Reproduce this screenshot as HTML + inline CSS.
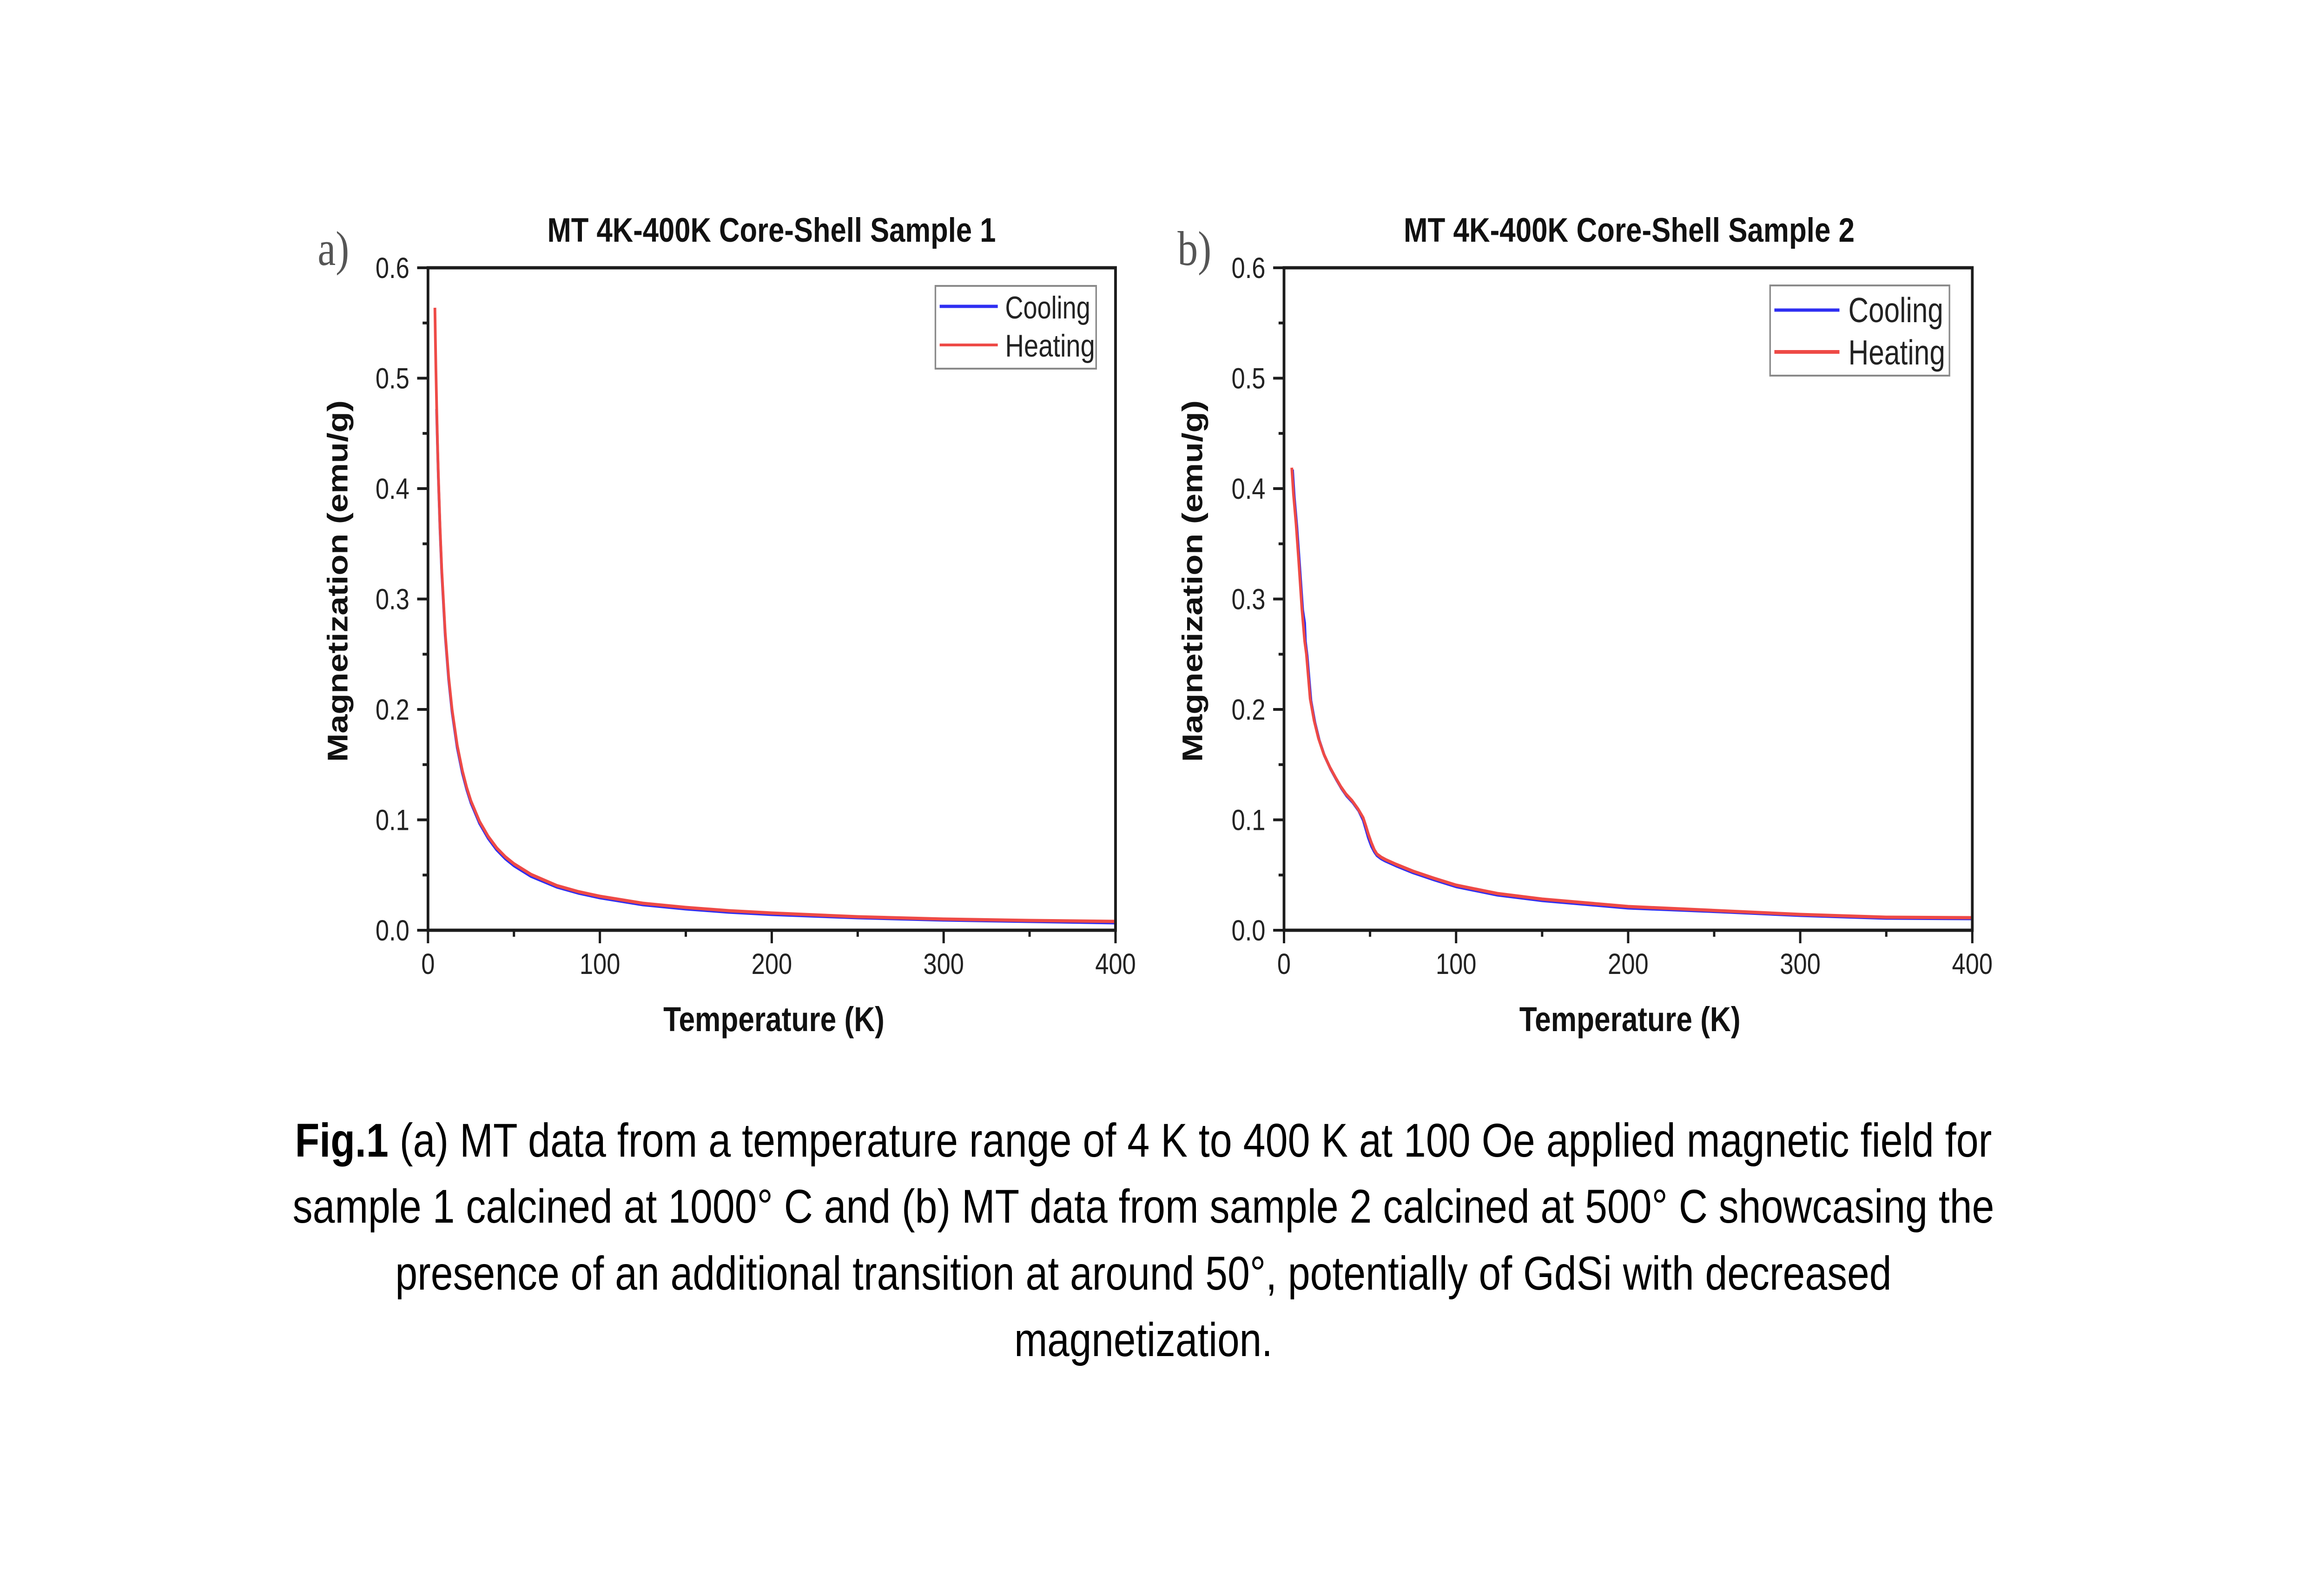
<!DOCTYPE html>
<html>
<head>
<meta charset="utf-8">
<style>
  html,body{margin:0;padding:0;background:#fff;overflow:hidden;width:100vw;height:100vh;}
  svg{display:block;width:100vw;height:100vh;}
  .tk{font-family:"Liberation Sans",Arial,sans-serif;font-size:63px;fill:#222;}
  .bt{font-family:"Liberation Sans",Arial,sans-serif;font-weight:bold;fill:#111;}
  .lg{font-family:"Liberation Sans",Arial,sans-serif;fill:#222;}
  .pl{font-family:"Liberation Serif","Times New Roman",serif;font-size:105px;fill:#555;}
  .cap{font-family:"Liberation Sans",Arial,sans-serif;font-size:102px;fill:#000;}
</style>
</head>
<body>
<svg viewBox="0 0 6000 3375" preserveAspectRatio="none" xmlns="http://www.w3.org/2000/svg">
  <rect x="0" y="0" width="6000" height="3375" fill="#fff"/>

  <!-- ================= PANEL A ================= -->
  <text class="pl" x="820" y="570">a)</text>
  <text class="bt" x="1992" y="520" font-size="73" text-anchor="middle" textLength="1158" lengthAdjust="spacingAndGlyphs">MT 4K-400K Core-Shell Sample 1</text>

  <polyline fill="none" stroke="#2e2ef2" stroke-width="7" stroke-linejoin="round"
    points="1127.2,880 1129.4,955 1131.6,1024 1136.1,1140 1140.5,1231 1149.4,1366 1158.3,1461 1167.1,1531 1180.4,1608 1193.8,1663 1204.9,1698 1215.9,1727 1238.1,1771 1260.3,1803 1282.5,1828 1304.7,1847 1326.9,1862 1371.3,1885 1437.8,1908 1493.3,1921 1548.8,1931 1659.7,1946 1770.6,1955 1881.6,1962 1992.5,1967 2214.4,1974 2436.3,1979 2658.1,1982 2880,1985"/>
  <polyline fill="none" stroke="#ee4a46" stroke-width="7" stroke-linejoin="round"
    points="1122.8,662 1124.1,732 1125.4,794 1127.2,868 1129.4,949 1131.6,1019 1136.1,1135 1140.5,1226 1149.4,1361 1158.3,1456 1167.1,1526 1180.4,1603 1193.8,1658 1204.9,1694 1215.9,1723 1238.1,1767 1260.3,1799 1282.5,1824 1304.7,1843 1326.9,1858 1371.3,1881 1437.8,1905 1493.3,1918 1548.8,1928 1659.7,1943 1770.6,1952 1881.6,1959 1992.5,1964 2214.4,1972 2436.3,1977 2658.1,1980 2880,1982"/>

  <rect x="1105" y="576" width="1775" height="1425" fill="none" stroke="#1c1c1c" stroke-width="7"/>
  <g stroke="#1c1c1c" stroke-width="6">
    <line x1="1077" y1="2001" x2="1105" y2="2001"/>
    <line x1="1077" y1="1763.5" x2="1105" y2="1763.5"/>
    <line x1="1077" y1="1526" x2="1105" y2="1526"/>
    <line x1="1077" y1="1288.5" x2="1105" y2="1288.5"/>
    <line x1="1077" y1="1051" x2="1105" y2="1051"/>
    <line x1="1077" y1="813.5" x2="1105" y2="813.5"/>
    <line x1="1077" y1="576" x2="1105" y2="576"/>
    <line x1="1091" y1="1882.25" x2="1105" y2="1882.25"/>
    <line x1="1091" y1="1644.75" x2="1105" y2="1644.75"/>
    <line x1="1091" y1="1407.25" x2="1105" y2="1407.25"/>
    <line x1="1091" y1="1169.75" x2="1105" y2="1169.75"/>
    <line x1="1091" y1="932.25" x2="1105" y2="932.25"/>
    <line x1="1091" y1="694.75" x2="1105" y2="694.75"/>
    <line x1="1105" y1="2001" x2="1105" y2="2029"/>
    <line x1="1548.75" y1="2001" x2="1548.75" y2="2029"/>
    <line x1="1992.5" y1="2001" x2="1992.5" y2="2029"/>
    <line x1="2436.25" y1="2001" x2="2436.25" y2="2029"/>
    <line x1="2880" y1="2001" x2="2880" y2="2029"/>
    <line x1="1326.9" y1="2001" x2="1326.9" y2="2015"/>
    <line x1="1770.6" y1="2001" x2="1770.6" y2="2015"/>
    <line x1="2214.4" y1="2001" x2="2214.4" y2="2015"/>
    <line x1="2658.1" y1="2001" x2="2658.1" y2="2015"/>
  </g>
  <g class="tk" text-anchor="end">
    <text x="1057" y="2023">0.0</text>
    <text x="1057" y="1785.5">0.1</text>
    <text x="1057" y="1548">0.2</text>
    <text x="1057" y="1310.5">0.3</text>
    <text x="1057" y="1073">0.4</text>
    <text x="1057" y="835.5">0.5</text>
    <text x="1057" y="598">0.6</text>
  </g>
  <g class="tk" text-anchor="middle">
    <text x="1105" y="2095">0</text>
    <text x="1548.75" y="2095">100</text>
    <text x="1992.5" y="2095">200</text>
    <text x="2436.25" y="2095">300</text>
    <text x="2880" y="2095">400</text>
  </g>
  <text class="bt" x="1998" y="2218" font-size="74" text-anchor="middle" textLength="571" lengthAdjust="spacingAndGlyphs">Temperature (K)</text>
  <text class="bt" transform="translate(897,1250) rotate(-90)" x="0" y="0" font-size="74" text-anchor="middle" textLength="778" lengthAdjust="spacingAndGlyphs">Magnetization (emu/g)</text>

  <rect x="2415" y="615" width="415" height="178" fill="#fff" stroke="#8a8a8a" stroke-width="4"/>
  <line x1="2426" y1="659" x2="2576" y2="659" stroke="#2e2ef2" stroke-width="7"/>
  <line x1="2426" y1="742" x2="2576" y2="742" stroke="#ee4a46" stroke-width="6"/>
  <text class="lg" x="2595" y="685" font-size="68" textLength="220" lengthAdjust="spacingAndGlyphs">Cooling</text>
  <text class="lg" x="2595" y="767" font-size="68" textLength="232" lengthAdjust="spacingAndGlyphs">Heating</text>

  <!-- ================= PANEL B ================= -->
  <text class="pl" x="3040" y="570">b)</text>
  <text class="bt" x="4206" y="520" font-size="73" text-anchor="middle" textLength="1164" lengthAdjust="spacingAndGlyphs">MT 4K-400K Core-Shell Sample 2</text>

  <polyline fill="none" stroke="#2e2ef2" stroke-width="7" stroke-linejoin="round"
    points="3337,1010 3341.4,1068 3348.1,1132 3354.8,1210 3363.2,1312 3368.3,1340 3370.3,1380 3374.8,1411 3384.5,1507 3394.7,1554 3405.9,1592 3419.2,1625 3435.2,1654 3450.3,1677 3463.6,1696 3476.9,1712 3492.5,1726 3508,1744 3519.4,1764 3526.5,1784 3532.7,1802 3540.7,1820 3548.2,1832 3554.9,1840 3566,1847 3577.1,1852 3603.8,1862 3648.2,1877 3701.5,1892 3759.3,1907 3865.9,1925 3981.4,1937 4203.5,1953 4439,1961 4647.8,1969 4869.9,1975 5092,1976"/>
  <polyline fill="none" stroke="#ee4a46" stroke-width="7" stroke-linejoin="round"
    points="3335,1006 3339.4,1063 3346.1,1127 3352.8,1205 3361.2,1310 3368.3,1379 3372.8,1407 3382.5,1503 3392.7,1550 3403.9,1588 3417.2,1621 3433.2,1650 3448.3,1673 3461.6,1692 3474.9,1708 3490.5,1722 3506,1740 3519.4,1759 3526.5,1777 3532.7,1794 3540.7,1813 3548.2,1828 3554.9,1837 3566,1844 3577.1,1849 3603.8,1859 3648.2,1874 3701.5,1889 3759.3,1904 3865.9,1922 3981.4,1934 4203.5,1950 4439,1959 4647.8,1967 4869.9,1973 5092,1974"/>

  <rect x="3315" y="576" width="1777" height="1425" fill="none" stroke="#1c1c1c" stroke-width="7"/>
  <g stroke="#1c1c1c" stroke-width="6">
    <line x1="3287" y1="2001" x2="3315" y2="2001"/>
    <line x1="3287" y1="1763.5" x2="3315" y2="1763.5"/>
    <line x1="3287" y1="1526" x2="3315" y2="1526"/>
    <line x1="3287" y1="1288.5" x2="3315" y2="1288.5"/>
    <line x1="3287" y1="1051" x2="3315" y2="1051"/>
    <line x1="3287" y1="813.5" x2="3315" y2="813.5"/>
    <line x1="3287" y1="576" x2="3315" y2="576"/>
    <line x1="3301" y1="1882.25" x2="3315" y2="1882.25"/>
    <line x1="3301" y1="1644.75" x2="3315" y2="1644.75"/>
    <line x1="3301" y1="1407.25" x2="3315" y2="1407.25"/>
    <line x1="3301" y1="1169.75" x2="3315" y2="1169.75"/>
    <line x1="3301" y1="932.25" x2="3315" y2="932.25"/>
    <line x1="3301" y1="694.75" x2="3315" y2="694.75"/>
    <line x1="3315" y1="2001" x2="3315" y2="2029"/>
    <line x1="3759.25" y1="2001" x2="3759.25" y2="2029"/>
    <line x1="4203.5" y1="2001" x2="4203.5" y2="2029"/>
    <line x1="4647.75" y1="2001" x2="4647.75" y2="2029"/>
    <line x1="5092" y1="2001" x2="5092" y2="2029"/>
    <line x1="3537.1" y1="2001" x2="3537.1" y2="2015"/>
    <line x1="3981.4" y1="2001" x2="3981.4" y2="2015"/>
    <line x1="4425.6" y1="2001" x2="4425.6" y2="2015"/>
    <line x1="4869.9" y1="2001" x2="4869.9" y2="2015"/>
  </g>
  <g class="tk" text-anchor="end">
    <text x="3267" y="2023">0.0</text>
    <text x="3267" y="1785.5">0.1</text>
    <text x="3267" y="1548">0.2</text>
    <text x="3267" y="1310.5">0.3</text>
    <text x="3267" y="1073">0.4</text>
    <text x="3267" y="835.5">0.5</text>
    <text x="3267" y="598">0.6</text>
  </g>
  <g class="tk" text-anchor="middle">
    <text x="3315" y="2095">0</text>
    <text x="3759.25" y="2095">100</text>
    <text x="4203.5" y="2095">200</text>
    <text x="4647.75" y="2095">300</text>
    <text x="5092" y="2095">400</text>
  </g>
  <text class="bt" x="4208" y="2218" font-size="74" text-anchor="middle" textLength="571" lengthAdjust="spacingAndGlyphs">Temperature (K)</text>
  <text class="bt" transform="translate(3104,1250) rotate(-90)" x="0" y="0" font-size="74" text-anchor="middle" textLength="778" lengthAdjust="spacingAndGlyphs">Magnetization (emu/g)</text>

  <rect x="4570" y="614" width="463" height="194" fill="#fff" stroke="#8a8a8a" stroke-width="4"/>
  <line x1="4581" y1="667" x2="4749" y2="667" stroke="#2e2ef2" stroke-width="7"/>
  <line x1="4581" y1="757" x2="4749" y2="757" stroke="#ee4a46" stroke-width="8"/>
  <text class="lg" x="4772" y="693" font-size="75" textLength="245" lengthAdjust="spacingAndGlyphs">Cooling</text>
  <text class="lg" x="4772" y="784" font-size="75" textLength="250" lengthAdjust="spacingAndGlyphs">Heating</text>

  <!-- ================= CAPTION ================= -->
  <text class="cap" x="2952" y="2488" text-anchor="middle" textLength="4381" lengthAdjust="spacingAndGlyphs"><tspan font-weight="bold">Fig.1</tspan> (a) MT data from a temperature range of 4 K to 400 K at 100 Oe applied magnetic field for</text>
  <text class="cap" x="2952" y="2630" text-anchor="middle" textLength="4393" lengthAdjust="spacingAndGlyphs">sample 1 calcined at 1000° C and (b) MT data from sample 2 calcined at 500° C showcasing the</text>
  <text class="cap" x="2952" y="2774" text-anchor="middle" textLength="3863" lengthAdjust="spacingAndGlyphs">presence of an additional transition at around 50°, potentially of GdSi with decreased</text>
  <text class="cap" x="2952" y="2917" text-anchor="middle" textLength="667" lengthAdjust="spacingAndGlyphs">magnetization.</text>
</svg>
</body>
</html>
